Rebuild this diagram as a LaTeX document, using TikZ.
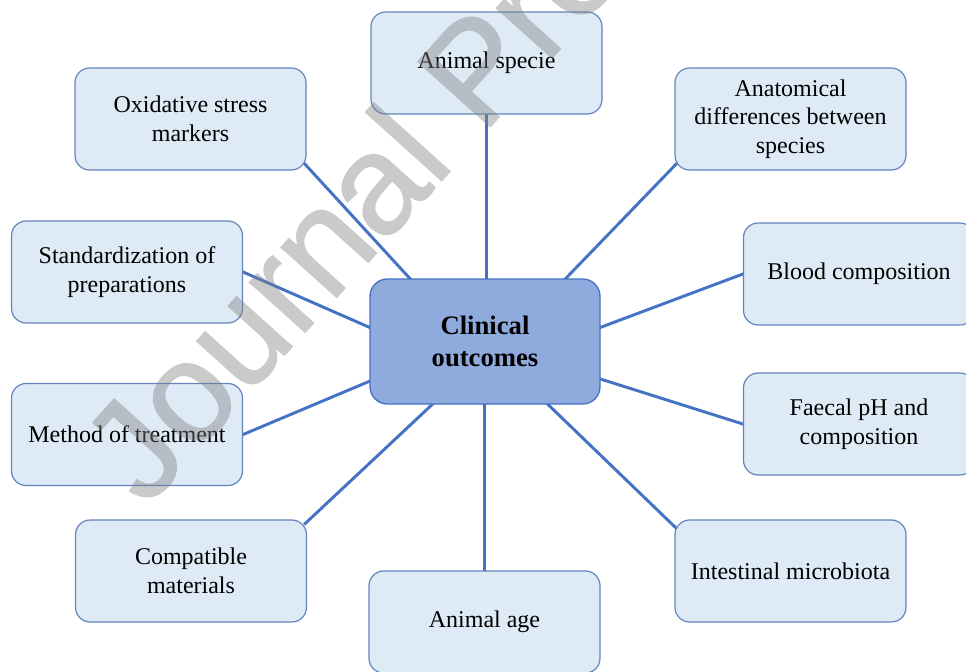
\documentclass[tikz,border=0pt]{standalone}
\usepackage{fontspec}
\setmainfont{Liberation Serif}
\newfontfamily\wmfont[FakeBold=1]{Liberation Sans}
\usepackage{xcolor}
\usetikzlibrary{backgrounds}

\definecolor{boxfill}{RGB}{222,234,246}
\definecolor{boxline}{RGB}{100,132,190}
\definecolor{hubfill}{RGB}{143,170,220}
\definecolor{hubline}{RGB}{68,114,196}
\definecolor{linkcol}{RGB}{68,114,196}

\tikzset{
  factor/.style={draw=boxline, fill=boxfill, line width=0.9pt, rounded corners=11pt,
    minimum width=173.25pt, minimum height=76.5pt, inner sep=0pt, align=center,
    font=\fontsize{18}{21.4}\selectfont},
  outcome/.style={draw=hubline, fill=hubfill, line width=1pt, rounded corners=13pt,
    minimum width=172.5pt, minimum height=93.75pt, inner sep=0pt, align=center,
    font=\fontsize{20}{23.5}\selectfont\bfseries},
  link/.style={draw=linkcol, line width=2.2pt, shorten <=-3pt, shorten >=-3pt},
  wmark/.style={text=black!50, inner sep=0pt,
    font=\wmfont\fontsize{106}{106}\selectfont}
}

\begin{document}
\begin{tikzpicture}[x=0.75pt, y=-0.75pt]
  \useasboundingbox (0,0) rectangle (966,671);
  \clip (0,0) rectangle (966,671);

  % Define nodes
  \node[outcome] (clin) at (485,341.5) {Clinical\\outcomes};

  \node[factor] (specie) at (486.5,63) {Animal specie};
  \node[factor] (oxid) at (190.5,119) {Oxidative stress\\markers};
  \node[factor] (anat) at (790.5,119) {Anatomical\\differences between\\species};
  \node[factor] (stand) at (127,272) {Standardization~of\\preparations};
  \node[factor] (blood) at (859,274) {Blood composition};
  \node[factor] (method) at (127,434.5) {Method of treatment};
  \node[factor] (faecal) at (859,424) {Faecal pH and\\composition};
  \node[factor] (compat) at (191,571) {Compatible\\materials};
  \node[factor] (intest) at (790.5,571) {Intestinal microbiota};
  \node[factor] (age) at (484.5,622) {Animal age};

  % Connect nodes
  \begin{scope}[on background layer]
    \draw[link] (specie.south) -- (specie.south |- clin.north);
    \draw[link] (oxid.-22) -- (clin.140);
    \draw[link] (anat.202) -- (clin.38);
    \draw[link] (stand.east) -- (clin.173);
    \draw[link] (blood.west) -- (clin.7);
    \draw[link] (method.east) -- (clin.199);
    \draw[link] (faecal.west) -- (clin.-18);
    \draw[link] (compat.23) -- (clin.230);
    \draw[link] (intest.159) -- (clin.-45);
    \draw[link] (age.north) -- (age.north |- clin.south);
  \end{scope}

  % Watermark
  \begin{scope}[transparency group, opacity=0.42]
    \node[wmark, rotate=48, anchor=base west] (wm) at (146,509) {Journal Pre};
  \end{scope}

\end{tikzpicture}
\end{document}
